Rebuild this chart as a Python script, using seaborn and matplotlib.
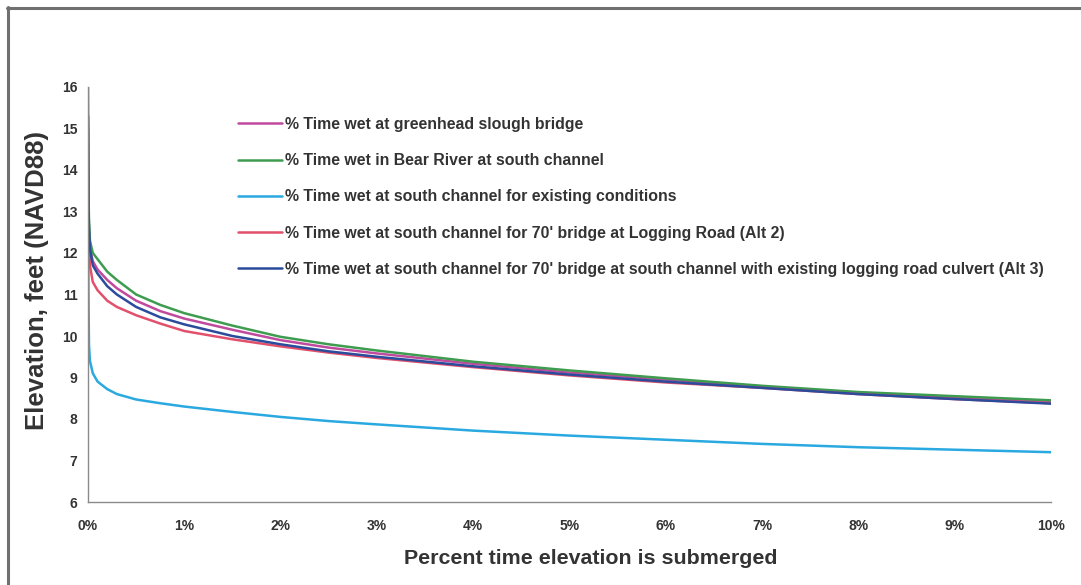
import matplotlib
matplotlib.use("Agg")
import matplotlib.pyplot as plt
import seaborn as sns
import pandas as pd
from matplotlib.lines import Line2D

# ---- data ----
pct = [0, 0.005, 0.01, 0.02, 0.05, 0.1, 0.2, 0.3, 0.5, 0.75, 1, 1.5, 2, 2.5, 3, 4, 5, 6, 7, 8, 9, 10]

greenhead = [15.0, 13.0, 12.5, 12.1, 11.8, 11.6, 11.35, 11.15, 10.85, 10.6, 10.42, 10.15, 9.9, 9.72, 9.58, 9.33, 9.12, 8.95, 8.78, 8.63, 8.52, 8.42]
bear_river = [16.0, 13.5, 12.8, 12.3, 12.0, 11.85, 11.55, 11.35, 11.0, 10.75, 10.55, 10.25, 9.98, 9.8, 9.65, 9.38, 9.17, 8.98, 8.8, 8.65, 8.55, 8.45]
existing = [15.3, 11.0, 9.8, 9.4, 9.1, 8.9, 8.72, 8.6, 8.47, 8.38, 8.3, 8.17, 8.05, 7.95, 7.87, 7.72, 7.6, 7.5, 7.4, 7.32, 7.26, 7.2]
alt2 = [14.0, 12.8, 12.3, 11.7, 11.3, 11.1, 10.85, 10.7, 10.5, 10.3, 10.12, 9.92, 9.75, 9.6, 9.47, 9.25, 9.05, 8.88, 8.75, 8.6, 8.48, 8.38]
alt3 = [15.3, 13.2, 12.6, 12.1, 11.7, 11.5, 11.2, 11.0, 10.7, 10.45, 10.28, 10.0, 9.8, 9.63, 9.5, 9.27, 9.07, 8.9, 8.75, 8.6, 8.48, 8.37]

series_names = [
    "% Time wet at greenhead slough bridge",
    "% Time wet in Bear River at south channel",
    "% Time wet at south channel for existing conditions",
    "% Time wet at south channel for 70' bridge at Logging Road (Alt 2)",
    "% Time wet at south channel for 70' bridge at south channel with existing logging road culvert (Alt 3)",
]
series_values = [greenhead, bear_river, existing, alt2, alt3]
colors = ["#C04A9E", "#3E9C50", "#2AA9E0", "#E2506C", "#2B4B9B"]

y_ticks = [6, 7, 8, 9, 10, 11, 12, 13, 14, 15, 16]
x_ticks = [0, 1, 2, 3, 4, 5, 6, 7, 8, 9, 10]
x_tick_labels = [f"{t}%" for t in x_ticks]

rows = []
for name, vals in zip(series_names, series_values):
    for x, y in zip(pct, vals):
        rows.append({"pct": x, "elev": y, "series": name})
df = pd.DataFrame(rows)

sns.set_theme(style="white")
plt.rcParams["font.family"] = ["Liberation Sans", "DejaVu Sans"]

W, H = 1081, 585
fig = plt.figure(figsize=(W / 100, H / 100), dpi=100)
ax = fig.add_axes([88 / W, (H - 502) / H, 963 / W, 415 / H])

sns.lineplot(data=df, x="pct", y="elev", hue="series", hue_order=series_names,
             palette=colors, linewidth=1.8, ax=ax, legend=True)

ax.set_xlim(0, 10)
ax.set_ylim(6, 16)
ax.set_xticks(x_ticks)
ax.set_xticklabels(x_tick_labels)
ax.set_yticks(y_ticks)
for lab in ax.get_xticklabels() + ax.get_yticklabels():
    lab.set_fontweight("bold")
    lab.set_fontsize(10)
    lab.set_color("#333333")

for s in ["top", "right"]:
    ax.spines[s].set_visible(False)
for s in ["left", "bottom"]:
    ax.spines[s].set_color("#8a8a8a")
    ax.spines[s].set_linewidth(1.0)
ax.tick_params(axis="both", direction="inout", length=5, width=0.8, color="#8a8a8a")
ax.tick_params(axis="x", pad=10)
ax.tick_params(axis="y", pad=5)

ax.set_xlabel("Percent time elevation is submerged", fontsize=15.4, fontweight="bold", color="#333333")
ax.set_ylabel("Elevation, feet (NAVD88)", fontsize=18.5, fontweight="bold", color="#333333")
ax.xaxis.set_label_coords((591 - 88) / 963, (502 - 559) / 415)
ax.xaxis.label.set_va("center")
ax.yaxis.set_label_coords((37 - 88) / 963, (502 - 280) / 415)
ax.yaxis.label.set_va("center")

handles, labels = ax.get_legend_handles_labels()
leg = ax.legend(handles, labels, loc="upper left", bbox_to_anchor=(238 / W, (H - 117) / H),
                bbox_transform=fig.transFigure, frameon=False, handlelength=2.8,
                handletextpad=0.15, labelspacing=1.34, borderaxespad=0, borderpad=0,
                prop={"family": "Liberation Sans", "weight": "bold", "size": 11.4})
for t in leg.get_texts():
    t.set_color("#333333")

# scanned page frame (top and left)
fig.add_artist(Line2D([7 / W, 1.0], [1 - 8 / H, 1 - 8 / H], transform=fig.transFigure,
                      color="#707070", linewidth=2.2))
fig.add_artist(Line2D([8 / W, 8 / W], [0, 1 - 7 / H], transform=fig.transFigure,
                      color="#707070", linewidth=2.2))

fig.savefig("out.png", dpi=100)
